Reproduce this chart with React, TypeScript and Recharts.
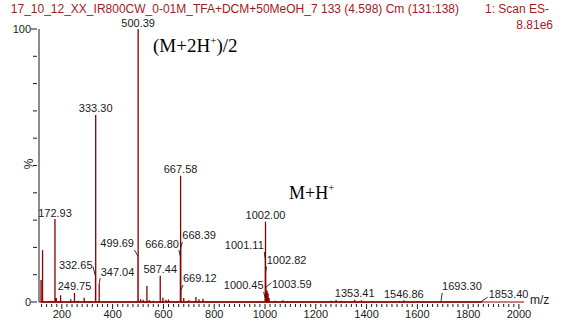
import { LineChart, Line, XAxis, YAxis, LabelList } from "recharts";

// peaks: m/z and relative intensity (%)
const PEAK_MZ = [
  118, 124, 150, 160, 172.93, 178, 195, 235, 249.75, 265, 288, 310,
  332.65, 333.3, 347.04, 499.69, 500.39, 510, 520, 535, 545, 560,
  587.44, 598, 610, 620, 666.8, 667.58, 668.39, 669.12, 680, 700, 728,
  740, 756, 800, 1000.45, 1001.11, 1002.0, 1002.82, 1003.59, 1008, 1012,
  1016, 1040, 1070, 1090, 1260, 1280, 1300, 1353.41, 1380, 1420, 1530,
  1546.86, 1560, 1693.3, 1853.4,
];
const PEAK_PCT = [
  8.1, 19, 0.4, 0.5, 30.4, 1.5, 2.5, 1.0, 3.3, 0.5, 1.6, 0.4,
  9.3, 68.5, 6.6, 16.8, 100, 1.0, 0.8, 5.9, 0.7, 0.5,
  9.6, 1.6, 0.8, 0.9, 16.5, 46.2, 19.8, 4.4, 1.5, 0.6, 1.8,
  1.0, 1.2, 0.4, 1.5, 15.4, 29.4, 11.1, 5.4, 4.2, 3.2,
  1.5, 0.5, 0.6, 0.4, 0.5, 0.7, 0.5, 0.8, 0.6, 0.3, 0.4,
  0.6, 0.3, 0.4, 0.3,
];
const LABELLED_MZ = [
  172.93, 249.75, 332.65, 333.3, 347.04, 499.69, 500.39, 587.44, 666.8,
  667.58, 668.39, 669.12, 1000.45, 1001.11, 1002.0, 1002.82, 1003.59,
  1353.41, 1546.86, 1693.3, 1853.4,
];

const X_LABELS = [200, 400, 600, 800, 1000, 1200, 1400, 1600, 1800, 2000];
const Y_LABELS = [0, 100];

const TITLE = "17_10_12_XX_IR800CW_0-01M_TFA+DCM+50MeOH_7 133 (4.598) Cm (131:138)";
const SCAN = "1: Scan ES-";
const TIC = "8.81e6";

const RED = "#8b0000";
const HEAD = "#a01c1c";
const INK = "#1a1a1a";

// where the labels sit relative to the peak top; default is centred above it
type LabelPos = { tx: number; ty: number; anchor: "start" | "end"; lx: number; ly: number };
const LABEL_POS: Record<string, LabelPos> = {
  "332.65": { tx: -3, ty: -8, anchor: "end", lx: -2.5, ly: -10 },
  "347.04": { tx: 1.5, ty: -8, anchor: "start", lx: 1, ly: -6 },
  "499.69": { tx: -4, ty: -9, anchor: "end", lx: -3.5, ly: -6 },
  "666.80": { tx: -1.5, ty: -9, anchor: "end", lx: -1.5, ly: -7 },
  "668.39": { tx: 1.5, ty: -9, anchor: "start", lx: 1.5, ly: -6 },
  "669.12": { tx: 2, ty: -8, anchor: "start", lx: 2, ly: -5 },
  "1000.45": { tx: -1.5, ty: -9, anchor: "end", lx: -1.5, ly: -6 },
  "1001.11": { tx: -1.5, ty: -11, anchor: "end", lx: -1, ly: -8 },
  "1002.82": { tx: 1, ty: -7.5, anchor: "start", lx: 1, ly: -5 },
  "1003.59": { tx: 6, ty: 1, anchor: "start", lx: 5.5, ly: -4.5 },
  "1693.30": { tx: 1, ty: -10.5, anchor: "start", lx: 1.2, ly: -8 },
  "1853.40": { tx: 7, ty: -3, anchor: "start", lx: 6, ly: -4 },
};

// stick spectrum: each peak is baseline -> top -> baseline
const peaks = PEAK_MZ.map((mz, i) => ({
  mz,
  pct: PEAK_PCT[i],
  label: LABELLED_MZ.includes(mz) ? mz.toFixed(2) : "",
})).sort((a, b) => a.mz - b.mz);

const sticks = peaks.flatMap((p) => [
  { mz: p.mz, pct: 0, label: "" },
  { mz: p.mz, pct: p.pct, label: p.label },
  { mz: p.mz, pct: 0, label: "" },
]);

const X_TICKS: number[] = [];
for (let v = 120; v <= 2000; v += 20) X_TICKS.push(v);
const Y_TICKS = [0, 10, 20, 30, 40, 50, 60, 70, 80, 90, 100];

const FONT = "'Liberation Sans', Arial, sans-serif";
const SERIF = "'Liberation Serif', 'Times New Roman', serif";

function XTick({ x, y, payload }: any) {
  const major = X_LABELS.includes(payload.value);
  return (
    <g>
      <line x1={x} x2={x} y1={y} y2={y + (major ? 5 : 3)} stroke={INK} />
      {major && (
        <text x={x} y={y + 14} textAnchor="middle" fontSize={11} fontFamily={FONT} fill={INK}>
          {payload.value}
        </text>
      )}
    </g>
  );
}

function YTick({ x, y, payload }: any) {
  const major = Y_LABELS.includes(payload.value);
  return (
    <g>
      <line x1={x - (major ? 6 : 4)} x2={x} y1={y} y2={y} stroke={INK} />
      {major && (
        <text x={x - 6} y={y + 4} textAnchor="end" fontSize={11} fontFamily={FONT} fill={INK}>
          {payload.value}
        </text>
      )}
    </g>
  );
}

function PeakLabel({ x, y, value }: any) {
  if (!value) return null;
  const p = LABEL_POS[value];
  if (!p) {
    return (
      <text x={x} y={y - 2.5} textAnchor="middle" fontSize={11} fontFamily={FONT} fill={INK}>
        {value}
      </text>
    );
  }
  return (
    <g>
      <line x1={x} y1={y} x2={x + p.lx} y2={y + p.ly} stroke={INK} strokeWidth={0.9} />
      <text x={x + p.tx} y={y + p.ty} textAnchor={p.anchor} fontSize={11} fontFamily={FONT} fill={INK}>
        {value}
      </text>
    </g>
  );
}

export default function App() {
  return (
    <div style={{ position: "absolute", left: 0, top: 0, width: 566, height: 320, background: "#fff" }}>
      <LineChart width={566} height={320} data={sticks} margin={{ top: 29, right: 42, bottom: 0, left: 0 }}>
        <XAxis
          type="number"
          dataKey="mz"
          domain={[110, 2020]}
          allowDataOverflow
          ticks={X_TICKS}
          interval={0}
          tickSize={0}
          tickLine={false}
          axisLine={{ stroke: RED }}
          height={18}
          tick={<XTick />}
        />
        <YAxis
          type="number"
          domain={[0, 100]}
          ticks={Y_TICKS}
          interval={0}
          tickSize={0}
          tickLine={false}
          axisLine={{ stroke: INK }}
          width={39}
          tick={<YTick />}
        />
        <Line
          type="linear"
          dataKey="pct"
          stroke={RED}
          strokeWidth={1.3}
          strokeLinejoin="bevel"
          dot={false}
          activeDot={false}
          isAnimationActive={false}
        >
          <LabelList dataKey="label" content={<PeakLabel />} />
        </Line>
      </LineChart>
      <svg width={566} height={320} style={{ position: "absolute", left: 0, top: 0, pointerEvents: "none" }}>
        <text x={10.8} y={13.2} fontSize={12} fontFamily={FONT} fill={HEAD}>{TITLE}</text>
        <text x={549} y={13.2} fontSize={12} fontFamily={FONT} fill={HEAD} textAnchor="end">{SCAN}</text>
        <text x={553} y={28.5} fontSize={12} fontFamily={FONT} fill={HEAD} textAnchor="end">{TIC}</text>
        <text x={29} y={164} fontSize={12} fontFamily={FONT} fill={INK} textAnchor="middle" dominantBaseline="central" transform="rotate(-90 29 164)">%</text>
        <text x={530} y={304} fontSize={12} fontFamily={FONT} fill={INK}>m/z</text>
        <text x={153} y={52} fontSize={19} fontFamily={SERIF} fill="#000">
          (M+2H<tspan fontSize={11} dy={-8}>+</tspan><tspan dy={8}>)/2</tspan>
        </text>
        <text x={289} y={199} fontSize={18} fontFamily={SERIF} fill="#000">
          M+H<tspan fontSize={11} dy={-8}>+</tspan>
        </text>
      </svg>
    </div>
  );
}
